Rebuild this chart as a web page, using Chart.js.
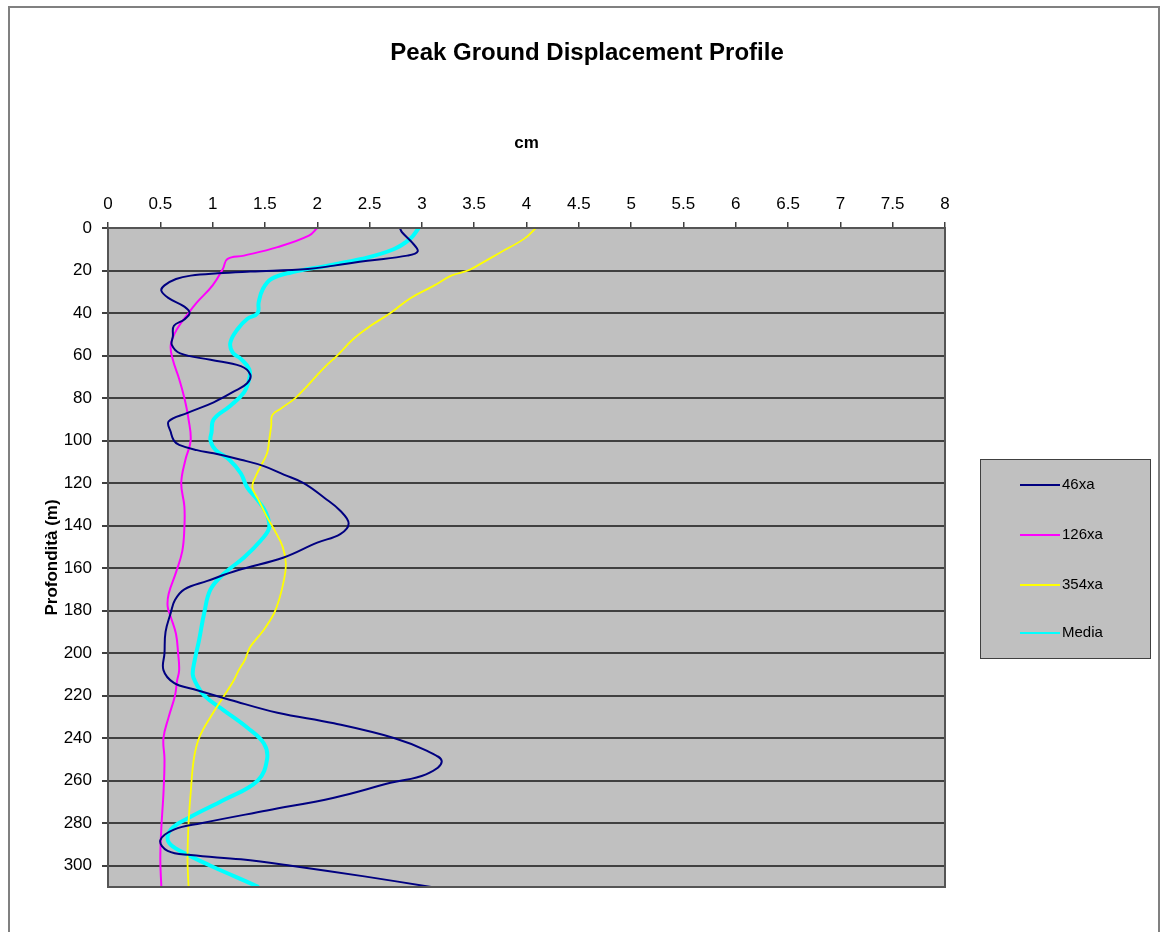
<!DOCTYPE html>
<html>
<head>
<meta charset="utf-8">
<script src="https://cdn.jsdelivr.net/npm/chart.js@4/dist/chart.umd.min.js"></script>
<style>
  body { margin: 0; background: #fff; }
  canvas { display: block; }
</style>
</head>
<body>
<canvas id="chartPgd" width="1161" height="932"></canvas>
<script>
const labels = ['46xa', '126xa', '354xa', 'Media']
const colors = ['#000080', '#ff00ff', '#ffff00', '#00ffff']
const widths = [2, 2, 1.8, 4]

// depth (m) / peak displacement (cm)
const depth46 = [0, 2, 7, 11, 13, 15.4, 17.7, 19.3, 20.5, 21.3, 22.4, 24, 27, 29.5, 33, 37, 40, 43, 46, 51, 55, 59, 62, 65, 69, 73, 77, 82, 87, 91, 96, 100, 102, 104.5, 106, 109, 112, 116, 120, 127, 133, 139, 144, 148, 155, 161, 166, 170, 175, 181, 190, 200, 208, 214, 217, 222, 228, 233, 240, 246, 251, 257, 261, 268, 274, 280, 283, 288, 293, 295, 297, 300, 305, 310]
const pgd46 = [2.79, 2.81, 2.91, 2.96, 2.86, 2.48, 2.16, 1.91, 1.36, 1.05, 0.79, 0.65, 0.54, 0.51, 0.58, 0.73, 0.78, 0.73, 0.63, 0.62, 0.61, 0.69, 0.98, 1.27, 1.36, 1.33, 1.20, 1.01, 0.76, 0.58, 0.60, 0.63, 0.68, 0.85, 1.01, 1.27, 1.49, 1.68, 1.87, 2.07, 2.22, 2.30, 2.22, 2.00, 1.68, 1.24, 0.95, 0.73, 0.64, 0.60, 0.55, 0.54, 0.53, 0.63, 0.82, 1.17, 1.62, 2.16, 2.74, 3.05, 3.19, 3.04, 2.70, 2.16, 1.52, 0.89, 0.63, 0.50, 0.57, 0.79, 1.27, 1.75, 2.45, 3.09]

const depth126 = [0, 3.6, 9, 13, 14.6, 19, 27, 35, 40, 47.5, 55, 62, 71, 80, 90, 100, 109, 120, 131, 141, 152, 162, 172, 178, 183, 191, 200, 208, 213, 220, 230, 240, 250, 266, 282, 297, 310]
const pgd126 = [2.0, 1.92, 1.62, 1.30, 1.14, 1.10, 1.00, 0.85, 0.77, 0.66, 0.60, 0.62, 0.68, 0.73, 0.77, 0.79, 0.74, 0.70, 0.73, 0.73, 0.71, 0.65, 0.58, 0.57, 0.60, 0.65, 0.67, 0.68, 0.66, 0.64, 0.58, 0.53, 0.54, 0.53, 0.51, 0.50, 0.51]

const depth354 = [0, 5, 11.5, 17.7, 20, 22.4, 27, 33, 40, 46, 52, 60, 66, 74, 80, 85, 88, 93, 100, 106, 112, 117, 122, 128, 136, 142, 150, 158, 166, 174, 181, 189, 197, 203, 208, 213, 220, 230, 240, 250, 266, 280, 297, 310]
const pgd354 = [4.09, 3.98, 3.75, 3.53, 3.44, 3.28, 3.12, 2.89, 2.70, 2.51, 2.35, 2.19, 2.06, 1.91, 1.79, 1.65, 1.57, 1.56, 1.54, 1.52, 1.46, 1.41, 1.38, 1.44, 1.52, 1.59, 1.67, 1.70, 1.68, 1.64, 1.59, 1.49, 1.36, 1.31, 1.25, 1.20, 1.11, 0.98, 0.87, 0.82, 0.79, 0.77, 0.76, 0.77]

const depthMedia = [0, 5, 10, 14.6, 17.7, 20.9, 24, 28.7, 35, 40, 42.8, 47.5, 53.8, 58.5, 61.6, 66.4, 71, 77.3, 83.6, 90, 96, 100, 104.5, 109, 115.5, 122, 128, 134, 141, 147, 155, 162.5, 170, 181, 194, 203, 210, 214, 220, 227, 235, 242.5, 250, 260, 269, 277, 283, 289, 294, 300, 305, 310]
const pgdMedia = [2.97, 2.89, 2.73, 2.42, 2.10, 1.75, 1.56, 1.48, 1.44, 1.43, 1.33, 1.24, 1.17, 1.19, 1.27, 1.35, 1.35, 1.30, 1.17, 1.01, 0.99, 0.98, 1.03, 1.16, 1.27, 1.33, 1.43, 1.51, 1.54, 1.46, 1.30, 1.11, 0.98, 0.92, 0.87, 0.83, 0.81, 0.84, 0.92, 1.11, 1.33, 1.49, 1.52, 1.43, 1.11, 0.79, 0.60, 0.58, 0.73, 0.98, 1.21, 1.44]

const depths = [depth46, depth126, depth354, depthMedia]
const values = [pgd46, pgd126, pgd354, pgdMedia]

const chartTitle = 'Peak Ground Displacement Profile'
const fontFamily = '"Liberation Sans", Arial, sans-serif'
const gridColor = '#404040'

const plotBackground = {
    id: 'plotBackground',
    beforeDraw(chart) {
        const c = chart.ctx
        const a = chart.chartArea
        c.save()
        // outer frame
        c.strokeStyle = '#808080'
        c.lineWidth = 2
        c.beginPath()
        c.moveTo(9, 932)
        c.lineTo(9, 7)
        c.lineTo(1159, 7)
        c.lineTo(1159, 932)
        c.stroke()
        // title, centred on the whole picture
        c.fillStyle = '#000'
        c.font = 'bold 24px ' + fontFamily
        c.textAlign = 'center'
        c.textBaseline = 'middle'
        c.fillText(chartTitle, 587, 53)
        c.fillStyle = '#c0c0c0'
        c.fillRect(a.left, a.top, a.right - a.left, a.bottom - a.top)
        c.restore()
    },
    afterDatasetsDraw(chart) {
        const c = chart.ctx
        const a = chart.chartArea
        c.save()
        c.strokeStyle = '#555555'
        c.lineWidth = 2
        c.strokeRect(a.left, a.top, a.right - a.left, a.bottom - a.top)
        c.restore()
    }
}

const boxLegend = {
    id: 'boxLegend',
    afterDraw(chart) {
        const c = chart.ctx
        c.save()
        c.fillStyle = '#c0c0c0'
        c.fillRect(980, 459, 170, 199)
        c.strokeStyle = '#404040'
        c.lineWidth = 1
        c.strokeRect(980.5, 459.5, 170, 199)
        c.font = '15px ' + fontFamily
        c.textBaseline = 'middle'
        c.fillStyle = '#000'
        const rows = [485, 535, 585, 633]
        chart.data.datasets.forEach((ds, i) => {
            c.strokeStyle = ds.borderColor
            c.lineWidth = 2
            c.beginPath()
            c.moveTo(1020, rows[i])
            c.lineTo(1060, rows[i])
            c.stroke()
            c.fillText(ds.label, 1062, rows[i])
        })
        c.restore()
    }
}

new Chart(document.getElementById('chartPgd'), {
    type: 'scatter',
    data: {
        datasets: labels.map((name, i) => ({
            label: name,
            data: depths[i].map((d, j) => ({ x: values[i][j], y: d })),
            showLine: true,
            borderColor: colors[i],
            backgroundColor: colors[i],
            borderWidth: widths[i],
            pointRadius: 0,
            tension: 0.4
        }))
    },
    options: {
        responsive: false,
        animation: false,
        layout: { padding: { left: 0, right: 216, top: 80, bottom: 45 } },
        plugins: {
            legend: { display: false },
            tooltip: { enabled: false },
            title: { display: false }
        },
        scales: {
            x: {
                type: 'linear',
                position: 'top',
                min: 0,
                max: 8,
                afterFit(scale) { scale.height = 148 },
                ticks: {
                    stepSize: 0.5,
                    color: '#000',
                    padding: 7,
                    font: { family: fontFamily, size: 17 },
                    callback: (v) => String(v)
                },
                grid: { drawOnChartArea: false, drawTicks: true, tickLength: 6, color: gridColor, lineWidth: 1.5 },
                border: { display: true, color: gridColor, width: 2 },
                title: {
                    display: true,
                    text: 'cm',
                    color: '#000',
                    font: { family: fontFamily, size: 17, weight: 'bold' },
                    padding: { top: 53, bottom: 0 }
                }
            },
            y: {
                type: 'linear',
                position: 'left',
                reverse: true,
                min: 0,
                max: 310,
                afterFit(scale) { scale.width = 108 },
                ticks: { stepSize: 20, includeBounds: false, color: '#000', padding: 10, font: { family: fontFamily, size: 17 } },
                grid: { color: gridColor, lineWidth: 2, tickLength: 6 },
                border: { display: true, color: gridColor, width: 2 },
                title: {
                    display: true,
                    text: 'Profondità (m)',
                    color: '#000',
                    font: { family: fontFamily, size: 17, weight: 'bold' },
                    padding: { top: 42, bottom: 0 }
                }
            }
        }
    },
    plugins: [plotBackground, boxLegend]
})
</script>
</body>
</html>
